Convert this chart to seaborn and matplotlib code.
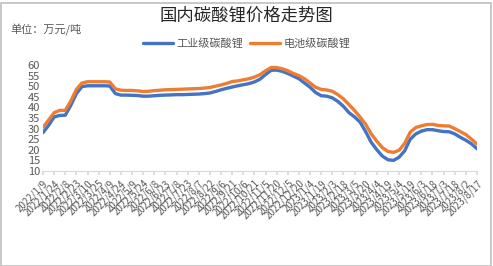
import numpy as np
import pandas as pd
import matplotlib
matplotlib.use("Agg")
import matplotlib.pyplot as plt
import seaborn as sns
from matplotlib.lines import Line2D
from matplotlib.patches import Rectangle

title = "国内碳酸锂价格走势图"
unit_label = "单位：万元/吨"
series_names = ["工业级碳酸锂", "电池级碳酸锂"]

tick_labels = [
    "2022/1/9", "2022/1/24", "2022/2/8", "2022/2/23", "2022/3/10", "2022/3/25",
    "2022/4/9", "2022/4/24", "2022/5/9", "2022/5/24", "2022/6/8", "2022/6/23",
    "2022/7/8", "2022/7/23", "2022/8/7", "2022/8/22", "2022/9/6", "2022/9/21",
    "2022/10/6", "2022/10/21", "2022/11/5", "2022/11/20", "2022/12/5", "2022/12/20",
    "2023/1/4", "2023/1/19", "2023/2/3", "2023/2/18", "2023/3/5", "2023/3/20",
    "2023/4/4", "2023/4/19", "2023/5/4", "2023/5/19", "2023/6/3", "2023/6/18",
    "2023/7/3", "2023/7/18", "2023/8/2", "2023/8/17",
]

industrial = [
    28.1, 31.5, 35.5, 36.2, 36.3, 41.0, 46.5, 49.8, 50.2, 50.2,
    50.2, 50.2, 50.1, 46.5, 45.8, 45.8, 45.7, 45.6, 45.3, 45.3,
    45.5, 45.7, 45.8, 45.9, 46.0, 46.0, 46.1, 46.2, 46.3, 46.5,
    46.8, 47.5, 48.3, 49.0, 49.6, 50.2, 50.7, 51.2, 52.0, 53.3,
    55.5, 57.5, 57.6, 57.0, 56.0, 54.8, 53.5, 51.5, 49.5, 47.0,
    45.5, 45.3, 44.5, 42.8, 40.5, 37.5, 35.5, 33.0, 28.5, 23.5,
    20.0, 17.0, 15.3, 15.0, 16.5, 19.5, 25.0, 27.5, 28.8, 29.5,
    29.5, 29.0, 28.6, 28.5, 27.5, 25.9, 24.5, 22.8, 20.5,
]
battery = [
    30.6, 34.0, 37.5, 38.6, 38.6, 43.0, 48.5, 51.5, 52.1, 52.1,
    52.1, 52.1, 52.0, 48.8, 48.1, 48.0, 48.0, 47.8, 47.5, 47.6,
    47.9, 48.1, 48.3, 48.4, 48.5, 48.6, 48.7, 48.8, 48.9, 49.1,
    49.4, 50.0, 50.6, 51.3, 52.2, 52.5, 53.0, 53.5, 54.3, 55.4,
    57.3, 58.8, 58.8, 58.2, 57.3, 56.0, 55.0, 53.5, 51.5, 49.5,
    48.5, 48.2, 47.6, 46.0, 44.0, 41.3, 38.5, 35.4, 32.0, 27.5,
    24.0, 21.0, 19.2, 18.8, 19.8, 23.0, 28.3, 30.5, 31.3, 31.9,
    32.0, 31.5, 31.3, 31.2, 30.0, 28.6, 27.2, 25.0, 22.7,
]

colors = ["#4472C4", "#ED7D31"]

n = len(industrial)
df = pd.DataFrame({
    "idx": list(range(n)) * 2,
    "price": industrial + battery,
    "series": [series_names[0]] * n + [series_names[1]] * n,
})

sns.set_theme(style="white")
plt.rcParams["font.family"] = ["Noto Sans CJK SC", "DejaVu Sans"]

W, H = 493, 266
fig = plt.figure(figsize=(W / 100, H / 100), dpi=100)
ax = fig.add_axes([43 / W, 1 - 171 / H, (477 - 43) / W, (171 - 65) / H])

sns.lineplot(data=df, x="idx", y="price", hue="series", palette=colors,
             hue_order=series_names, linewidth=2.4, ax=ax, legend=False)

ax.set_xlim(0, n - 1)
ax.set_ylim(10, 60)
ax.set_yticks(range(10, 61, 5))
ax.set_xticks(range(0, n, 2))
ax.set_xticklabels(tick_labels, rotation=45, ha="right", rotation_mode="anchor",
                   fontsize=7, color="#595959")
ax.tick_params(axis="y", labelsize=8, colors="#595959", length=0, pad=2)
ax.tick_params(axis="x", length=3, color="#d9d9d9", pad=2, bottom=True)
ax.set_xlabel("")
ax.set_ylabel("")
for s in ["top", "right", "left"]:
    ax.spines[s].set_visible(False)
ax.spines["bottom"].set_color("#d9d9d9")
ax.spines["bottom"].set_linewidth(0.8)

fig.text(0.5, 1 - 16 / H, title, ha="center", va="center", fontsize=12.5, color="#262626")
fig.text(10 / W, 1 - 30 / H, unit_label, ha="left", va="center", fontsize=8, color="#595959")

handles = [Line2D([0], [0], color=c, lw=2.4) for c in colors]
fig.legend(handles, series_names, loc="center", bbox_to_anchor=(0.5, 1 - 43 / H),
           ncol=2, frameon=False, fontsize=8, handlelength=2.7, columnspacing=0.6,
           handletextpad=0.3, labelcolor="#595959")

fig.patches.append(Rectangle((0.5 / W, 0.5 / H), (W - 3) / W, (H - 3) / H,
                             transform=fig.transFigure, fill=False,
                             edgecolor="#bfbfbf", linewidth=1.2))

fig.savefig("out.png", dpi=100)
